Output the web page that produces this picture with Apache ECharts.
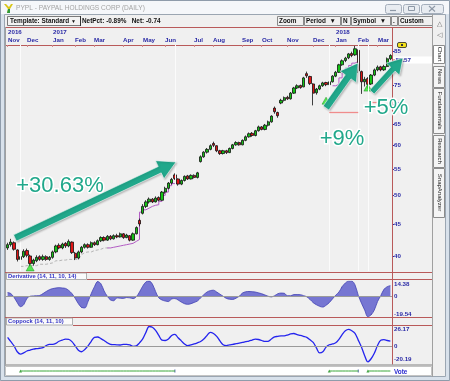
<!DOCTYPE html>
<html><head><meta charset="utf-8">
<script src="https://cdn.jsdelivr.net/npm/echarts@6/dist/echarts.min.js"></script>
<style>html,body{margin:0;padding:0;background:#fff}#c{width:450px;height:381px}</style>
</head><body><div id="c"></div><script>
// ---------- data ----------
const monthLabels = ['Nov','Dec','Jan','Feb','Mar','Apr','May','Jun','Jul','Aug','Sep','Oct','Nov','Dec','Jan','Feb','Mar'];
const monthStart  = [0,6,14,21,27,36,42,49,58,64,73,79,87,95,102,109,115];
const yearAt      = {0:'2016',14:'2017',102:'2018'};
const priceTicks  = [40,45,50,55,60,65,70,75,80,85];
const derivTicks  = [-19.54,0,14.38];
const coppTicks   = [-20.19,0,26.17];
// [open, close, low, high]
const ohlc = [
[41.2,41.7,40.9,42.0],[41.7,42.1,41.4,42.6],[42.0,41.0,40.8,42.2],[40.9,39.5,39.2,41.0],[39.5,39.9,39.0,40.2],
[39.9,40.7,39.7,41.0],[40.8,40.1,39.8,41.1],[40.0,38.9,38.5,40.2],[38.9,39.4,38.6,39.6],[39.3,39.8,39.1,40.1],
[39.9,39.5,39.3,40.1],[39.5,39.9,39.3,40.2],[39.9,39.5,39.3,40.1],[39.5,39.8,39.3,40.0],[39.8,40.6,39.6,40.8],
[40.6,41.5,40.4,41.7],[41.6,41.2,41.0,41.9],[41.2,41.8,41.0,42.0],[41.9,41.5,41.2,42.1],[41.5,42.2,41.3,42.5],
[42.1,40.5,40.3,42.2],[40.4,39.7,39.4,40.6],[39.7,40.6,39.5,40.8],[40.6,41.3,40.4,41.5],[41.3,41.7,41.1,41.9],
[41.7,41.3,41.1,41.9],[41.3,42.0,41.2,42.2],[42.0,41.7,41.5,42.2],[41.7,42.3,41.6,42.5],[42.3,42.8,42.1,43.0],
[42.8,42.4,42.2,43.0],[42.4,43.0,42.3,43.2],[43.0,42.6,42.4,43.2],[42.6,43.1,42.5,43.3],[43.1,42.9,42.7,43.4],
[42.9,43.4,42.8,43.6],[43.4,42.8,42.6,43.5],[42.8,43.2,42.7,43.4],[43.1,42.4,42.2,43.2],[42.4,43.4,42.3,43.6],
[43.4,44.4,43.3,44.6],[45.6,45.0,44.6,45.9],[46.8,48.0,46.6,48.4],[48.0,48.8,47.7,49.1],[48.8,49.3,48.5,49.6],
[49.3,48.8,48.6,49.5],[48.8,49.5,48.7,49.8],[49.6,49.1,48.9,49.8],[49.1,50.6,49.0,50.8],[50.6,51.3,50.3,51.6],
[51.3,52.3,51.1,52.5],[52.3,53.0,52.0,53.3],[53.9,53.2,52.9,54.2],[53.1,52.1,51.8,53.2],[52.1,52.8,51.9,53.0],
[52.8,53.6,52.6,53.8],[53.7,53.1,52.9,53.9],[53.1,53.8,53.0,54.0],[53.8,53.4,53.2,54.0],[53.4,54.3,53.2,54.5],
[56.6,57.6,56.4,57.9],[57.6,58.6,57.4,58.8],[58.6,59.2,58.3,59.5],[59.2,60.0,59.0,60.3],[60.5,60.1,59.7,60.9],
[60.0,58.9,58.6,60.1],[58.9,58.3,58.0,59.1],[58.3,58.9,58.1,59.1],[58.9,58.5,58.2,59.1],[58.5,59.4,58.4,59.6],
[59.4,60.2,59.2,60.4],[60.2,60.7,60.0,61.0],[60.7,60.2,60.0,60.9],[60.2,61.2,60.1,61.4],[61.2,62.0,61.0,62.3],
[62.0,62.7,61.8,63.0],[62.8,62.3,62.0,63.1],[62.3,63.4,62.1,63.6],[63.4,64.3,63.2,64.6],[64.3,63.7,63.5,64.5],
[63.7,64.7,63.5,65.0],[64.7,65.5,64.4,65.8],[65.5,66.9,65.3,67.1],[68.9,68.0,67.5,69.3],[67.8,67.0,66.5,68.0],
[70.2,70.9,69.9,71.3],[70.9,71.6,70.6,71.9],[71.7,71.3,71.0,72.1],[71.3,72.8,71.1,73.1],[72.8,74.2,72.6,74.5],
[74.2,74.8,73.9,75.2],[74.9,74.3,74.0,75.1],[74.5,77.0,74.4,77.3],[78.2,77.6,77.0,78.8],[77.4,75.4,75.0,77.6],
[75.3,72.8,69.6,75.5],[72.9,73.9,72.4,74.2],[73.9,74.8,73.6,75.1],[74.8,75.6,74.5,75.9],[75.7,75.1,74.7,75.9],
[75.1,75.9,74.9,76.2],[75.9,77.5,75.7,77.8],[77.5,78.6,77.2,79.0],[78.6,80.8,78.4,81.1],[80.8,82.0,80.5,82.4],
[82.1,82.8,81.6,83.2],[82.9,84.1,82.5,84.4],[84.2,83.6,83.1,84.8],[83.8,85.7,83.5,86.6],[85.2,79.0,78.4,85.5],
[78.8,75.9,72.6,79.1],[75.9,76.6,74.6,77.3],[76.8,75.2,74.0,77.2],[75.3,77.8,75.0,78.1],[77.8,79.3,77.5,79.7],
[79.3,80.1,78.9,80.6],[80.2,79.3,78.9,80.5],[79.3,80.3,79.0,80.8],[80.3,82.6,80.1,83.0],[82.6,83.6,82.2,84.0]
];
const stopGrayStart = 4;
const stopGray = [38.5,38.5,38.6,38.6,38.6,38.6,38.8,38.8,38.8,38.9,39.0,39.3,39.3,39.4,39.4,39.5,39.5,39.5,39.5,40.2,40.5,40.6,40.6,40.8,40.9,41.0,41.2,41.2,41.2];
const stopPinkAStart = 32;
const stopPinkA = [41.2,41.3,41.4,41.5,41.6,41.7,41.8,41.9,42.2,42.5,47.0,47.4,47.7,48.0,48.2,48.3,48.9,50.0,50.6,51.8,52.2,52.3];
const stopPinkBStart = 102;
const stopPinkB = [74.8,75.2,77.0,78.5,79.8,80.6,81.3,81.8];
const stopLevels = [[100,109,67.9],[113,116,70.5]];
const buySignals = [[7,38.35],[99,70.8],[112,74.3]];
const tradeLines = [4,52,100,109,112];
const trades = [[4,52],[100,109],[112,119]];
const deriv = [
3.5,2.5,-1,-6,-9.8,-8,-2,0,0.3,0.5,
0.8,2.5,4.5,6.2,7.2,7.8,8.1,7.8,7.4,5.5,
2.5,-1.9,-7,-10.5,-11,-5,2.5,9,13.8,11.8,
5,0,-3.5,-4.2,-1.5,-1.8,-2,-1.2,-1.5,-2.2,
-0.5,4,9.5,13.5,14.3,11.5,4.5,-1.5,-3.5,-4.5,
-5,-2.5,-2.2,-3.5,-5.5,-7,-7.6,-7,-5.8,-4.5,
-1.5,1.5,4,5.3,5.7,4,2,0,-2,-2.8,
-3,-1.8,0,3,4.2,4.5,4.3,4,3.2,2.4,
1.2,0,-0.6,0.5,2.4,3,2.8,0.5,0.5,1.6,
1.6,1.5,0.6,-0.5,-3,-6,-8,-9.5,-10.2,-8.5,
-6,-2.5,1,4,9,12.5,14.2,14.2,10.7,1,
-6.5,-13,-19.3,-17.5,-13,-5,0.5,6.5,9,10];
const derivMarkIdx = [15,23,28,44,75,104,113];
const coppock = [
11.5,6,0.5,-7,-10,-8.5,-6,-4.8,-3.5,-3,
-2.5,-1.8,1,2.6,2.6,3.8,6.5,8.1,9.2,9,
6,0.5,-5,-7,-4,0.5,6.5,11.5,12,10,
7.5,4.5,2.5,2.2,1.9,1.7,2.4,2.6,1.8,0,
0.5,4.5,9.5,18,25.5,24.5,20.5,14,8,7.5,
9.5,14,15.5,11,7,3,0.8,1.8,3,4.5,
6.2,9.5,14,18,16.5,12.8,7,2,0.9,1.8,
2.5,3.4,4.2,5,6,6.8,8,9.2,8.8,7.5,
6.3,6.5,9.5,12.2,12.8,13.4,13.5,14.5,16,16.5,
15,14,12.8,11.5,8.5,5,-2,-8.5,-7,-1,
2,3,4.5,9,15,20,21.8,20,16.7,8,
-1,-12,-20,-16,-9,1,7.8,8.5,7.5,6.8];

// ---------- build ----------
const RED = '#b95a5a', BLUE = '#2a2aa6', TEAL = '#21a88b';
const FONT = 'Liberation Sans, Arial, sans-serif';
const cats = ohlc.map((d, i) => i);
function seg(start, vals, base) {
  return cats.map(i => (i >= start && i < start + vals.length) ? vals[i - start] : (base ? base[i] : '-'));
}
const grayData = seg(stopGrayStart, stopGray);
const pinkData = seg(stopPinkBStart, stopPinkB, seg(stopPinkAStart, stopPinkA));
const voteData = cats.map(i => trades.some(t => i >= t[0] && i <= t[1]) ? 0.5 : '-');
const derivMarks = cats.map(i => derivMarkIdx.indexOf(i) >= 0 ? deriv[i] : '-');
const isMonthStart = (i) => monthStart.indexOf(i) >= 0;
const lblStyle = {fontSize: 6.2, fontWeight: 'bold', color: BLUE, fontFamily: FONT};

const gridBase = {left: 6, right: 58, outerBoundsMode: 'none', containLabel: false};
const hiddenX = (g) => ({type: 'category', gridIndex: g, data: cats, boundaryGap: true, show: false});

const chart = echarts.init(document.getElementById('c'));
chart.setOption({
  animation: false,
  textStyle: {fontFamily: FONT},
  grid: [
    Object.assign({top: 45, height: 226}, gridBase),
    Object.assign({top: 281, height: 36}, gridBase),
    Object.assign({top: 326, height: 36}, gridBase),
    Object.assign({top: 367, height: 8}, gridBase)
  ],
  xAxis: [
    {type: 'category', gridIndex: 0, data: cats, position: 'top', boundaryGap: true,
     axisLine: {show: true, lineStyle: {color: RED, width: 1}},
     axisTick: {show: true, inside: true, length: 2, interval: isMonthStart, alignWithLabel: true, lineStyle: {color: '#d08a8a'}},
     axisLabel: {show: false},
     splitLine: {show: false}},
    hiddenX(1), hiddenX(2), hiddenX(3)
  ],
  yAxis: [
    {type: 'log', logBase: 10, gridIndex: 0, position: 'right', min: 37.85, max: 86.9,
     axisLine: {show: false},
     axisTick: {show: true, length: 2, customValues: priceTicks, lineStyle: {color: BLUE}},
     axisLabel: Object.assign({show: true, customValues: priceTicks, margin: 2,
       formatter: v => String(Math.round(v))}, lblStyle),
     splitLine: {show: false}},
    {type: 'value', gridIndex: 1, position: 'right', min: -19.54, max: 14.38,
     axisLine: {show: false}, axisTick: {show: false}, splitLine: {show: false},
     axisLabel: Object.assign({show: true, customValues: derivTicks, margin: 2,
       verticalAlignMinLabel: 'bottom', verticalAlignMaxLabel: 'top',
       formatter: v => v === 0 ? '0' : v.toFixed(2)}, lblStyle)},
    {type: 'value', gridIndex: 2, position: 'right', min: -20.19, max: 26.17,
     axisLine: {show: false}, axisTick: {show: false}, splitLine: {show: false},
     axisLabel: Object.assign({show: true, customValues: coppTicks, margin: 2,
       verticalAlignMinLabel: 'bottom', verticalAlignMaxLabel: 'top',
       formatter: v => v === 0 ? '0' : v.toFixed(2)}, lblStyle)},
    {type: 'value', gridIndex: 3, min: 0, max: 1, show: false}
  ],
  series: [
    {type: 'line', xAxisIndex: 0, yAxisIndex: 0, data: grayData, z: 1, symbol: 'none', silent: true,
     lineStyle: {color: '#b4b4b4', width: 1, type: [3, 2]},
     markLine: {silent: true, symbol: ['none', 'none'], label: {show: false},
       lineStyle: {color: '#fbfbfb', width: 1, type: 'solid'},
       data: tradeLines.map(i => ({xAxis: i}))}},
    {type: 'line', xAxisIndex: 0, yAxisIndex: 0, data: pinkData, z: 1, symbol: 'none', silent: true, step: 'start',
     lineStyle: {color: '#b35cc4', width: 1}},
    {type: 'candlestick', xAxisIndex: 0, yAxisIndex: 0, data: ohlc, barWidth: 2.8, z: 3, silent: true,
     itemStyle: {color: '#14c414', color0: '#e01414', borderColor: '#111', borderColor0: '#111', borderWidth: 0.8},
     markLine: {silent: true, symbol: ['none', 'none'], label: {show: false},
       lineStyle: {color: '#f08c8c', width: 1.3, type: 'solid'},
       data: stopLevels.map(s => [{coord: [s[0], s[2]]}, {coord: [s[1], s[2]]}])}},
    {type: 'scatter', xAxisIndex: 0, yAxisIndex: 0, data: buySignals, z: 4, silent: true,
     symbol: 'triangle', symbolSize: [8, 7],
     itemStyle: {color: '#2ee62e', borderColor: '#138a13', borderWidth: 0.6}},
    {type: 'line', xAxisIndex: 1, yAxisIndex: 1, data: deriv, smooth: 0.35, symbol: 'none', silent: true,
     lineStyle: {color: '#4343b4', width: 0.8},
     areaStyle: {color: '#7676d2', opacity: 1, origin: 0},
     markLine: {silent: true, symbol: ['none', 'none'], label: {show: false},
       lineStyle: {color: '#9a9a9a', width: 1, type: 'solid'}, data: [{yAxis: 0}]}},
    {type: 'bar', xAxisIndex: 1, yAxisIndex: 1, data: derivMarks, barWidth: 1.2, silent: true,
     itemStyle: {color: '#1b1b86'}},
    {type: 'line', xAxisIndex: 2, yAxisIndex: 2, data: coppock, smooth: 0.35, symbol: 'none', silent: true,
     lineStyle: {color: '#2424ee', width: 1.3},
     markLine: {silent: true, symbol: ['none', 'none'], label: {show: false},
       lineStyle: {color: '#9a9a9a', width: 1, type: 'solid'}, data: [{yAxis: 0}]}},
    {type: 'line', xAxisIndex: 3, yAxisIndex: 3, data: voteData, symbol: 'none', silent: true,
     lineStyle: {color: '#3aa83a', width: 1}},
    {type: 'scatter', xAxisIndex: 3, yAxisIndex: 3, data: trades.map(t => [t[0], 0.5]), silent: true,
     symbol: 'triangle', symbolSize: 3, itemStyle: {color: '#1f8f1f'}},
    {type: 'scatter', xAxisIndex: 3, yAxisIndex: 3, data: trades.slice(0, 2).map(t => [t[1], 0.5]), silent: true,
     symbol: 'rect', symbolSize: [1, 3], itemStyle: {color: '#203a90'}}
  ]
});

// ---------- chrome / annotations (pixel graphics) ----------
const G = [];
const R = (x, y, w, h, fill, stroke, z, r, lw) => G.push({type: 'rect', silent: true, z: z,
  shape: {x, y, width: w, height: h, r: r || 0}, style: {fill: fill || 'none', stroke: stroke || 'none', lineWidth: lw || 1}});
const L = (x1, y1, x2, y2, stroke, w, z) => G.push({type: 'line', silent: true, z: z === undefined ? 90 : z,
  shape: {x1, y1, x2, y2}, style: {stroke, lineWidth: w || 1}});
const T = (x, y, text, o, z) => G.push({type: 'text', silent: true, z: z || 95, x, y,
  style: Object.assign({text, fill: '#111', fontSize: 6.4, fontFamily: FONT, align: 'left', verticalAlign: 'middle'}, o)});

// window frame
R(0, 0, 450, 381, '#d8e1eb', null, -30);
R(0.5, 0.5, 449, 380, null, '#8f9cab', -29);
R(1, 1, 448, 13, '#f5f7fa', null, -29);
R(4.5, 14.5, 441, 362, '#f0f0f0', '#9ba6b2', -28);
R(5.5, 366.5, 426, 9, '#ffffff', '#c4c4c4', -27);
// title bar
G.push({type: 'polygon', silent: true, z: 95, shape: {points: [[4, 4], [8, 9], [7, 13], [10, 13], [10, 9], [13, 4], [11, 4], [9, 7], [6, 4]]}, style: {fill: '#d9c61a'}});
G.push({type: 'polygon', silent: true, z: 96, shape: {points: [[8, 9], [10, 9], [10, 13], [7, 13]]}, style: {fill: '#2f9a3a'}});
T(16, 8, 'PYPL - PAYPAL HOLDINGS CORP (DAILY)', {fill: '#a4a4a4', fontSize: 6.6});
[[385, 16], [403, 16], [421, 22]].forEach(b => R(b[0] + 0.5, 4.5, b[1], 9, '#e8ecf1', '#a4aebb', 90, 2));
L(390, 10.5, 396, 10.5, '#8d98a6', 1.2);
R(408.5, 6.5, 6, 4, null, '#8d98a6', 92);
L(429, 6, 435, 11.5, '#8d98a6', 1.1); L(435, 6, 429, 11.5, '#8d98a6', 1.1);
// toolbar
R(7.5, 16.5, 73, 9, '#f3f3f3', '#7a7a7a', 90);
T(10, 21.2, 'Template: Standard', {fontWeight: 'bold'});
T(71, 21.2, '\u25BC', {fontSize: 5});
L(80.5, 16, 80.5, 26, '#303030');
T(82, 21.2, 'NetPct: -0.89%   Net: -0.74', {fontWeight: 'bold'});
[[277, 26, 'Zoom'], [304, 36, 'Period  \u25BC'], [341, 9, 'N'], [351, 39, 'Symbol  \u25BC'], [391, 6, '.'], [398, 34, 'Custom']]
  .forEach(b => { R(b[0] + 0.5, 16.5, b[1], 9, '#f0f0f0', '#8a8a8a', 90); T(b[0] + 2, 21.2, b[2], {fontWeight: 'bold'}); });
// pane separators
L(5, 27.5, 432, 27.5, RED);
L(5.5, 27, 5.5, 366, '#a0a0a0');
L(392.5, 27, 392.5, 365, RED);
L(432.5, 14, 432.5, 377, '#a0a0a0');
L(5, 272.5, 432, 272.5, RED);
L(87, 279.5, 432, 279.5, RED);
L(5, 317.5, 432, 317.5, RED);
L(73, 325.5, 432, 325.5, RED);
L(5, 365, 432, 365, '#a8a8a8', 1.5);
R(6.5, 273, 80, 6.5, '#fbfbfb', '#a0a0a0', 91, 0, 0.8);
T(8, 276.4, 'Derivative (14, 11, 10, 14)', {fill: '#3434c6', fontWeight: 'bold', fontSize: 5.8});
R(6.5, 318, 66, 7, '#fbfbfb', '#a0a0a0', 91, 0, 0.8);
T(8, 321.7, 'Coppock (14, 11, 10)', {fill: '#3434c6', fontWeight: 'bold', fontSize: 5.8});
T(394, 372, 'Vote', {fill: '#2a2ad0', fontWeight: 'bold', fontSize: 6.4});
// right tab strip
T(439, 24, '\u25B3', {fill: '#6a6a6a', fontSize: 7, align: 'center'});
T(439, 35, '\u25C1', {fill: '#6a6a6a', fontSize: 7, align: 'center'});
[['Chart', 45, 63], ['News', 66, 87], ['Fundamentals', 88, 133], ['Research', 135, 167], ['SnapAnalyzer', 168, 217]]
  .forEach((t, k) => {
    R(433.5, t[1] + 0.5, 11, t[2] - t[1], k === 0 ? '#ffffff' : '#f5f5f5', '#8c8c8c', 90);
    G.push({type: 'text', silent: true, z: 95, x: 439.5, y: (t[1] + t[2]) / 2, rotation: -Math.PI / 2,
      style: {text: t[0], fill: '#222', fontSize: 6, fontFamily: FONT, align: 'center', verticalAlign: 'middle'}});
  });
// price flag + last price box
R(397.5, 42.5, 9, 5, '#f3e21c', '#222', 95, 1.5, 0.8);
R(401, 44, 2, 2, '#333', null, 96);
const lastClose = ohlc[ohlc.length - 1][1];
const lp = chart.convertToPixel({xAxisIndex: 0, yAxisIndex: 0}, [cats.length - 1, lastClose]);
const by = Math.round(lp[1]) + 0.5;
R(393, by, 39, 7, '#ffffff', null, 96);
L(393, by + 3.5, 395, by + 3.5, RED, 1, 97);
T(395.5, by + 3.8, '83.57', {fill: BLUE, fontWeight: 'bold', fontSize: 6.2}, 97);
// teal annotation arrows and texts
function arrow(tail, tip, w, hl, hw) {
  const dx = tip[0] - tail[0], dy = tip[1] - tail[1], len = Math.hypot(dx, dy);
  const d = [dx / len, dy / len], n = [-d[1], d[0]];
  const nk = [tip[0] - d[0] * hl, tip[1] - d[1] * hl];
  const P = (p, s) => [p[0] + n[0] * s, p[1] + n[1] * s];
  G.push({type: 'polygon', silent: true, z: 120,
    shape: {points: [P(tail, w / 2), P(nk, w / 2), P(nk, hw / 2), tip, P(nk, -hw / 2), P(nk, -w / 2), P(tail, -w / 2)]},
    style: {fill: TEAL, stroke: 'rgba(255,255,255,0.7)', lineWidth: 0.8, shadowBlur: 2, shadowColor: 'rgba(0,0,0,0.25)', shadowOffsetX: 1, shadowOffsetY: 1}});
}
arrow([15, 238], [176, 162], 7, 18, 20);
arrow([326, 108], [358, 63], 7, 17, 20);
arrow([372, 92], [403, 58], 6, 15, 18);
const big = {fill: TEAL, stroke: '#ffffff', lineWidth: 3, strokeFirst: true, fontSize: 22, fontFamily: FONT,
  align: 'center', verticalAlign: 'middle', shadowBlur: 2, shadowColor: 'rgba(0,0,0,0.3)', shadowOffsetX: 1, shadowOffsetY: 1};
T(60, 186, '+30.63%', big, 125);
T(342, 139, '+9%', big, 125);
T(386, 108, '+5%', big, 125);

// month / year labels placed through the category axis scale (appended last, top layer)
monthStart.forEach((idx, k) => {
  const px = chart.convertToPixel({xAxisIndex: 0}, idx);
  G.push({type: 'text', silent: true, z: 200, zlevel: 1, x: Math.round(px), y: 40.5,
    style: {text: monthLabels[k], fill: BLUE, fontWeight: 'bold', fontSize: 6.2, fontFamily: FONT, align: 'left', verticalAlign: 'middle'}});
  if (yearAt[idx]) G.push({type: 'text', silent: true, z: 200, zlevel: 1, x: Math.round(px), y: 32.5,
    style: {text: yearAt[idx], fill: BLUE, fontWeight: 'bold', fontSize: 6.2, fontFamily: FONT, align: 'left', verticalAlign: 'middle'}});
});

chart.setOption({graphic: {elements: G}});
</script></body></html>
